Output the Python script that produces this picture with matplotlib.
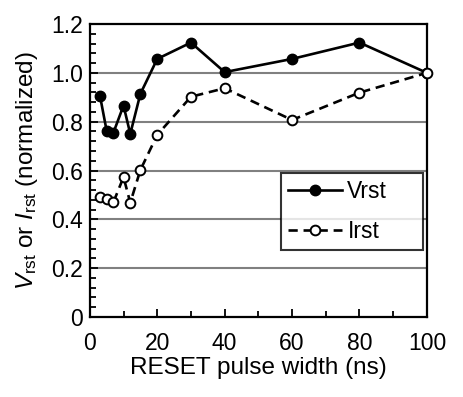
import matplotlib
matplotlib.use("Agg")
import matplotlib.pyplot as plt
from matplotlib.ticker import MultipleLocator, FuncFormatter

plt.rcParams['font.family'] = ['Liberation Sans', 'DejaVu Sans']
plt.rcParams['mathtext.fontset'] = 'custom'
plt.rcParams['mathtext.rm'] = 'Liberation Sans'
plt.rcParams['mathtext.it'] = 'Liberation Sans:italic'

# pulse widths (ns) and normalized values
pulse_width = [3, 5, 7, 10, 12, 15, 20, 30, 40, 60, 80, 100]
vrst = [0.907, 0.762, 0.755, 0.866, 0.750, 0.914, 1.057, 1.124, 1.003, 1.057, 1.124, 1.000]
irst = [0.490, 0.484, 0.470, 0.573, 0.468, 0.602, 0.746, 0.902, 0.937, 0.807, 0.919, 1.000]

fig = plt.figure(figsize=(4.63, 3.97), dpi=100)
ax = fig.add_axes([0.194, 0.2015, 0.728, 0.738])

# horizontal grid lines
for yv in [0.2, 0.4, 0.6, 0.8, 1.0]:
    ax.axhline(yv, color='#808080', lw=1.5, zorder=0)

ax.plot(pulse_width, vrst, '-o', color='black', lw=1.9, ms=7.5,
        mfc='black', mec='black', label='Vrst', zorder=3)
ax.plot(pulse_width, irst, '--o', color='black', lw=1.9, ms=7,
        mfc='white', mec='black', mew=1.4, label='Irst', zorder=3,
        dashes=(3.5, 2.2), clip_on=False)

ax.set_xlim(0, 100)
ax.set_ylim(0, 1.2)
ax.xaxis.set_major_locator(MultipleLocator(20))
ax.xaxis.set_minor_locator(MultipleLocator(10))
ax.yaxis.set_major_locator(MultipleLocator(0.2))
ax.yaxis.set_minor_locator(MultipleLocator(0.04))
ax.yaxis.set_major_formatter(FuncFormatter(lambda v, p: '0' if abs(v) < 1e-9 else f'{v:.1f}'))

ax.tick_params(which='both', direction='in', width=1.3, labelsize=16.5, pad=5)
ax.tick_params(axis='x', which='both', pad=11)
ax.tick_params(which='major', length=6)
ax.tick_params(which='minor', length=4)
for s in ax.spines.values():
    s.set_linewidth(1.6)

ax.set_xlabel('RESET pulse width (ns)', fontsize=17.5, labelpad=1)
ax.set_ylabel(r'$V_{\rm rst}$ or $I_{\rm rst}$ (normalized)', fontsize=17.5, labelpad=8)

leg = ax.legend(loc='upper left', bbox_to_anchor=(0.567, 0.246, 0.421, 0.245),
                mode='expand', fontsize=16.5, frameon=True, fancybox=False,
                edgecolor='black', handlelength=2.35, borderpad=0.3,
                labelspacing=0.75, handletextpad=0.25, borderaxespad=0)
leg.get_frame().set_linewidth(1.5)

fig.savefig('out.png', dpi=100)
